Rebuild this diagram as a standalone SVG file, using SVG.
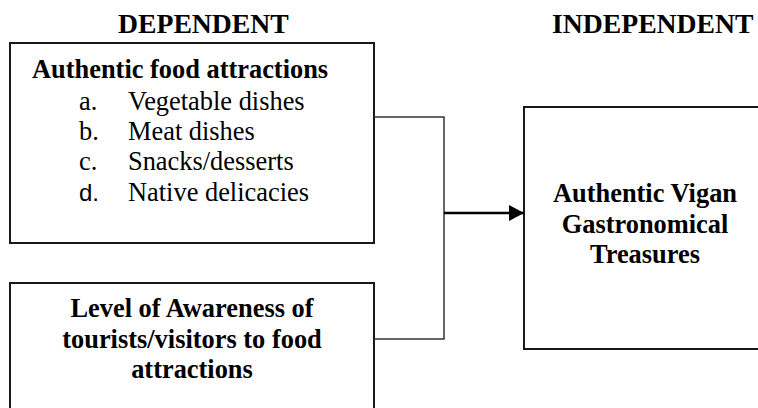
<svg xmlns="http://www.w3.org/2000/svg" width="758" height="408" viewBox="0 0 758 408">
<style>
.box{fill:#fff;stroke:#1a1a1a;stroke-width:2}
.t{font-family:"Liberation Serif","Times New Roman",serif;fill:#000}
.b{font-weight:bold}
.h{font-size:27.7px;font-weight:bold}
.s{font-size:26.4px}
.c{text-anchor:middle}
.ln{fill:none;stroke:#333;stroke-width:1.5}
.ar{fill:none;stroke:#000;stroke-width:2.5}
</style>
<defs>
<marker id="ah" markerWidth="16" markerHeight="16" refX="15" refY="8" orient="auto" markerUnits="userSpaceOnUse">
<path d="M0,0 L15,8 L0,16 Z" fill="#000"/>
</marker>
</defs>
<g id="headers">
<text class="t h" x="118" y="33">DEPENDENT</text>
<text class="t h" x="552" y="33">INDEPENDENT</text>
</g>
<g id="node-food">
<rect class="box" x="10" y="43" width="364" height="200"/>
<text class="t s b" x="32" y="78">Authentic food attractions</text>
<text class="t s" x="79" y="110">a.</text><text class="t s" x="128" y="110">Vegetable dishes</text>
<text class="t s" x="79" y="140">b.</text><text class="t s" x="128" y="140">Meat dishes</text>
<text class="t s" x="79" y="170">c.</text><text class="t s" x="128" y="170">Snacks/desserts</text>
<text x="79" y="201" style="font-family:'Liberation Sans',Arial,sans-serif;font-size:24px">d.</text><text class="t s" x="128" y="201">Native delicacies</text>
</g>
<g id="node-awareness">
<rect class="box" x="10" y="283" width="364" height="140"/>
<text class="t s b c" x="192" y="317">Level of Awareness of</text>
<text class="t s b c" x="192" y="348">tourists/visitors to food</text>
<text class="t s b c" x="192" y="378">attractions</text>
</g>
<g id="node-treasures">
<rect class="box" x="524" y="107" width="250" height="242"/>
<text class="t s b c" x="645" y="202">Authentic Vigan</text>
<text class="t s b c" x="645" y="233">Gastronomical</text>
<text class="t s b c" x="645" y="263">Treasures</text>
</g>
<g id="connectors">
<polyline class="ln" points="374,117 444,117 444,339 374,339"/>
<line class="ar" x1="444" y1="213" x2="524" y2="213" marker-end="url(#ah)"/>
</g>
</svg>
